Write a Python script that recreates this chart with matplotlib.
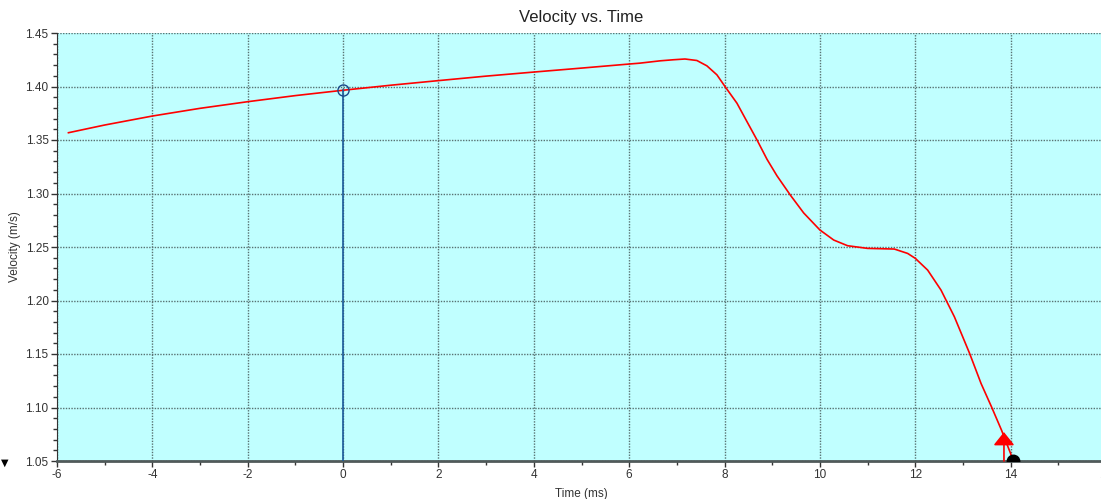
import matplotlib
matplotlib.use("Agg")
import matplotlib.pyplot as plt
from matplotlib.ticker import MultipleLocator, FormatStrFormatter

plt.rcParams['font.family'] = ['Liberation Sans', 'DejaVu Sans']
plt.rcParams['axes.unicode_minus'] = False

# velocity curve
time_ms = [-5.76, -5, -4, -3, -2, -1, 0, 1, 2, 3, 4, 5, 6, 6.22, 6.65, 6.93,
           7.17, 7.42, 7.63, 7.84, 8.0, 8.26, 8.47, 8.68, 8.89, 9.10, 9.38,
           9.66, 10.0, 10.29, 10.58, 11.0, 11.56, 11.84, 12.0, 12.26, 12.54,
           12.82, 13.14, 13.38, 13.60, 13.81, 14.0, 14.05]
velocity = [1.3568, 1.3640, 1.3724, 1.3796, 1.3858, 1.3915, 1.3965, 1.4012,
            1.4055, 1.4097, 1.4135, 1.4172, 1.4210, 1.4218, 1.4240, 1.4250,
            1.4257, 1.4243, 1.4193, 1.4109, 1.4006, 1.3844, 1.3672, 1.3501,
            1.3320, 1.3165, 1.2985, 1.2818, 1.2659, 1.2565, 1.2512, 1.2487,
            1.2481, 1.2440, 1.2394, 1.2284, 1.2097, 1.1848, 1.1505, 1.1224,
            1.1005, 1.0787, 1.0569, 1.0500]

cursor_t, cursor_v = 0.0, 1.3965      # blue cursor
arrow_t, arrow_v = 13.86, 1.077       # red arrow
end_t, end_v = 14.05, 1.05            # black end marker

x_ticks = [-6, -4, -2, 0, 2, 4, 6, 8, 10, 12, 14, 16]

fig = plt.figure(figsize=(11.01, 4.99), dpi=100)
ax = fig.add_axes([57 / 1101, 38 / 499, 1049 / 1101, 428 / 499])
ax.set_facecolor("#c0ffff")

ax.set_xlim(-6, 16)
ax.set_ylim(1.05, 1.45)
ax.set_xticks(x_ticks)
ax.xaxis.set_minor_locator(MultipleLocator(1))
ax.yaxis.set_major_locator(MultipleLocator(0.05))
ax.yaxis.set_minor_locator(MultipleLocator(0.01))
ax.yaxis.set_major_formatter(FormatStrFormatter("%.2f"))

ax.grid(True, which="major", color="#587272", linestyle=(0, (1, 1)), linewidth=1.0)
ax.set_axisbelow(True)

for s in ["top", "right"]:
    ax.spines[s].set_visible(False)
ax.spines["left"].set_color("#333333")
ax.spines["bottom"].set_color("#505a5a")
ax.spines["bottom"].set_linewidth(2)

ax.tick_params(which="major", direction="out", length=4, width=1, colors="#333333",
               labelsize=8.5, pad=2)
ax.tick_params(which="minor", direction="out", length=3, width=1, colors="#333333")

ax.plot(time_ms, velocity, color="#ff0000", linewidth=1.2, zorder=3)

# blue cursor line with hollow circle
ax.plot([cursor_t, cursor_t], [1.05, cursor_v], color="#1a5a9a", linewidth=1.2, zorder=3)
ax.plot([cursor_t], [cursor_v], marker="o", markersize=8, markerfacecolor="none",
        markeredgecolor="#1a4a8a", markeredgewidth=1.0, zorder=4)

# red arrow near the end
ax.annotate("", xy=(arrow_t, arrow_v), xytext=(arrow_t, 1.05),
            arrowprops=dict(arrowstyle="-|>,head_length=0.5,head_width=0.4",
                            color="#ff0000", lw=1.2, mutation_scale=16,
                            shrinkA=0, shrinkB=0), zorder=5)

ax.plot([end_t], [end_v], marker="o", markersize=9, color="black", zorder=6)

ax.set_title("Velocity vs. Time", fontsize=12, color="#222222", pad=8)
ax.set_xlabel("Time (ms)", fontsize=8.5, color="#333333", labelpad=5)
ax.set_ylabel("Velocity (m/s)", fontsize=8.5, color="#333333", labelpad=3)

fig.text(5 / 1101, 1 - 463 / 499, "\u25bc", fontsize=7, color="black",
         ha="center", va="center", family="DejaVu Sans")

fig.savefig("out.png", dpi=100)
